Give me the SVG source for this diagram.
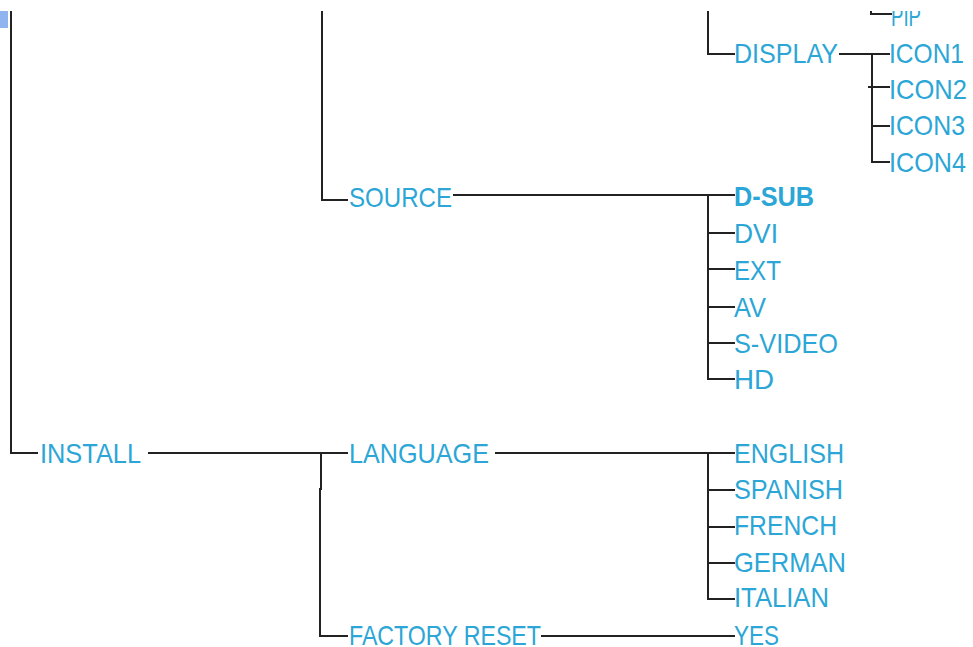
<svg xmlns="http://www.w3.org/2000/svg" width="973" height="647" viewBox="0 0 973 647">
<style>
.t{font-family:"Liberation Sans",Arial,sans-serif;font-size:28px;fill:#2ba6d6;}
.b{font-weight:bold;}
.c{fill:none;stroke:#222;stroke-width:2;}
</style>
<defs>
<clipPath id="clip"><rect x="0" y="11" width="973" height="636"/></clipPath>
</defs>
<rect width="973" height="647" fill="#ffffff"/>
<rect x="0" y="11" width="8" height="17" fill="#8fb4f0"/>
<g clip-path="url(#clip)">
<g id="connectors" class="c">
<path d="M11,11 V453 H38"/>
<path d="M322,11 V200 H348"/>
<path d="M453,195 H735"/>
<path d="M708,195 V379 H735"/>
<path d="M708,233 H735 M708,269 H735 M708,307 H735 M708,343 H735"/>
<path d="M708,11 V54 H735"/>
<path d="M839,54 H890"/>
<path d="M872,54 V162 H890"/>
<path d="M868,87 H890 M872,126 H890"/>
<path d="M871,11 V14 H892"/>
<path d="M148,453 H348"/>
<path d="M321,453 V490"/>
<path d="M320,488 V636 H348"/>
<path d="M495,453 H735"/>
<path d="M708,453 V599 H735"/>
<path d="M708,490 H735 M708,527 H735 M708,563 H735"/>
<path d="M541,636 H735"/>
</g>
<g id="pip"><text class="t" x="891" y="26" textLength="30" lengthAdjust="spacingAndGlyphs">PIP</text></g>
<g id="display"><text class="t" x="734" y="63" textLength="104" lengthAdjust="spacingAndGlyphs">DISPLAY</text></g>
<g id="icon1"><text class="t" x="889" y="63" textLength="75" lengthAdjust="spacingAndGlyphs">ICON1</text></g>
<g id="icon2"><text class="t" x="889" y="99" textLength="78" lengthAdjust="spacingAndGlyphs">ICON2</text></g>
<g id="icon3"><text class="t" x="889" y="135" textLength="76" lengthAdjust="spacingAndGlyphs">ICON3</text></g>
<g id="icon4"><text class="t" x="889" y="172" textLength="77" lengthAdjust="spacingAndGlyphs">ICON4</text></g>
<g id="source"><text class="t" x="349" y="207" textLength="103" lengthAdjust="spacingAndGlyphs">SOURCE</text></g>
<g id="dsub"><text class="t b" x="734" y="206" textLength="80" lengthAdjust="spacingAndGlyphs">D-SUB</text></g>
<g id="dvi"><text class="t" x="734" y="243" textLength="44" lengthAdjust="spacingAndGlyphs">DVI</text></g>
<g id="ext"><text class="t" x="734" y="280" textLength="47" lengthAdjust="spacingAndGlyphs">EXT</text></g>
<g id="av"><text class="t" x="734" y="317" textLength="32" lengthAdjust="spacingAndGlyphs">AV</text></g>
<g id="svideo"><text class="t" x="734" y="353" textLength="104" lengthAdjust="spacingAndGlyphs">S-VIDEO</text></g>
<g id="hd"><text class="t" x="734" y="389" textLength="40" lengthAdjust="spacingAndGlyphs">HD</text></g>
<g id="install"><text class="t" x="40" y="463" textLength="101" lengthAdjust="spacingAndGlyphs">INSTALL</text></g>
<g id="language"><text class="t" x="349" y="463" textLength="140" lengthAdjust="spacingAndGlyphs">LANGUAGE</text></g>
<g id="english"><text class="t" x="734" y="463" textLength="110" lengthAdjust="spacingAndGlyphs">ENGLISH</text></g>
<g id="spanish"><text class="t" x="734" y="499" textLength="109" lengthAdjust="spacingAndGlyphs">SPANISH</text></g>
<g id="french"><text class="t" x="734" y="535" textLength="103" lengthAdjust="spacingAndGlyphs">FRENCH</text></g>
<g id="german"><text class="t" x="734" y="572" textLength="112" lengthAdjust="spacingAndGlyphs">GERMAN</text></g>
<g id="italian"><text class="t" x="734" y="607" textLength="95" lengthAdjust="spacingAndGlyphs">ITALIAN</text></g>
<g id="factoryreset"><text class="t" x="349" y="645" textLength="192" lengthAdjust="spacingAndGlyphs">FACTORY RESET</text></g>
<g id="yes"><text class="t" x="734" y="645" textLength="45" lengthAdjust="spacingAndGlyphs">YES</text></g>
</g>
</svg>
